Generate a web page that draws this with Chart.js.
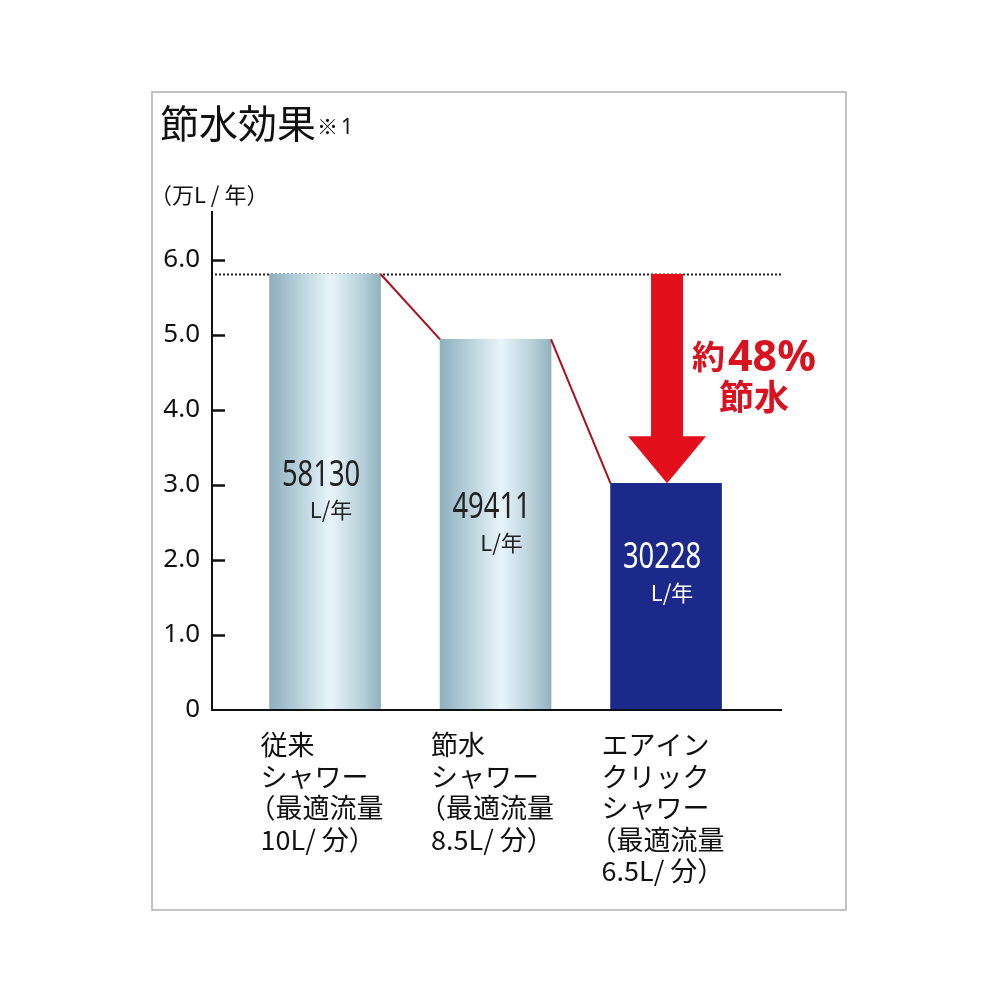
<!DOCTYPE html>
<html>
<head>
<meta charset="utf-8">
<script src="https://cdn.jsdelivr.net/npm/chart.js@4"></script>
<style>
  html, body { margin: 0; padding: 0; background: #fff; }
  canvas { display: block; }
</style>
</head>
<body>
<canvas id="c" width="1000" height="1000"></canvas>
<script>
"use strict";

// data (values in 万L/年)
const categories = [
  ['従来', 'シャワー', '（最適流量', '10L/ 分）'],
  ['節水', 'シャワー', '（最適流量', '8.5L/ 分）'],
  ['エアイン', 'クリック', 'シャワー', '（最適流量', '6.5L/ 分）']
];
const values      = [5.813, 4.9411, 3.0228];
const valueLabels = ['58130', '49411', '30228'];
const unitLabel   = 'L/年';
const yTicks      = [0, 1, 2, 3, 4, 5, 6];

const JP = '"Noto Sans CJK JP", "Noto Sans", sans-serif';
const RED = '#e3101c';
const NAVY = '#1b2a8a';
const BAR_W = 111;

function barGradient(c) {
  const chart = c.chart;
  const i = c.dataIndex;
  if (i === 2 || !chart.chartArea || i === undefined) return NAVY;
  const cx = chart.scales.x.getPixelForValue(i);
  const g = chart.ctx.createLinearGradient(cx - BAR_W / 2, 0, cx + BAR_W / 2, 0);
  g.addColorStop(0, '#8eafbd');
  g.addColorStop(0.18, '#a9c6d2');
  g.addColorStop(0.55, '#e8f4fa');
  g.addColorStop(0.85, '#b4cdd8');
  g.addColorStop(1, '#91b0be');
  return g;
}

const decorations = {
  id: 'decorations',
  beforeDraw(chart) {
    const ctx = chart.ctx;
    ctx.save();
    ctx.fillStyle = '#fff';
    ctx.fillRect(0, 0, chart.width, chart.height);
    // frame
    ctx.strokeStyle = '#b0b0b0';
    ctx.lineWidth = 1.5;
    ctx.strokeRect(152, 92, 694, 818);
    // title
    ctx.fillStyle = '#111';
    ctx.textBaseline = 'alphabetic';
    ctx.textAlign = 'left';
    ctx.font = '39px ' + JP;
    ctx.fillText('節水効果', 160, 138);
    const tw = ctx.measureText('節水効果').width;
    ctx.font = '21px ' + JP;
    ctx.fillText('※', 160 + tw + 1, 134);
    ctx.font = '21px "Noto Sans", sans-serif';
    ctx.fillText('1', 160 + tw + 25, 134);
    // unit
    ctx.font = '22px ' + JP;
    ctx.fillText('（万L / 年）', 150, 203);
    ctx.restore();
  },
  beforeDatasetsDraw(chart) {
    const ctx = chart.ctx;
    const { y } = chart.scales;
    const area = chart.chartArea;
    ctx.save();
    // dotted reference line at bar 1 height
    ctx.strokeStyle = '#222';
    ctx.lineWidth = 2;
    ctx.setLineDash([2, 2]);
    ctx.beginPath();
    const yr = Math.round(y.getPixelForValue(values[0])) + 0.5;
    ctx.moveTo(area.left + 3, yr);
    ctx.lineTo(area.right, yr);
    ctx.stroke();
    ctx.restore();
  },
  afterDatasetsDraw(chart) {
    const ctx = chart.ctx;
    const { x, y } = chart.scales;
    ctx.save();
    // red connectors between bar tops
    ctx.strokeStyle = '#a8101c';
    ctx.lineWidth = 2;
    for (let i = 0; i < values.length - 1; i++) {
      ctx.beginPath();
      ctx.moveTo(x.getPixelForValue(i) + BAR_W / 2, y.getPixelForValue(values[i]));
      ctx.lineTo(x.getPixelForValue(i + 1) - BAR_W / 2, y.getPixelForValue(values[i + 1]));
      ctx.stroke();
    }

    // value labels inside bars
    values.forEach((v, i) => {
      const cx = x.getPixelForValue(i);
      const top = y.getPixelForValue(v);
      let mid = (top + y.getPixelForValue(0)) / 2;
      if (i === 2) mid -= 22;
      ctx.fillStyle = i === 2 ? '#fff' : '#222';
      ctx.textAlign = 'center';
      ctx.textBaseline = 'middle';
      ctx.save();
      ctx.translate(cx - 4, mid - 17);
      ctx.scale(0.74, 1);
      ctx.font = '37px "Noto Sans", sans-serif';
      ctx.fillText(valueLabels[i], 0, 0);
      ctx.restore();
      ctx.font = '22px ' + JP;
      ctx.fillText(unitLabel, cx + 6, mid + 18);
    });

    // category labels
    ctx.fillStyle = '#111';
    ctx.textAlign = 'left';
    ctx.textBaseline = 'middle';
    ctx.font = '27px ' + JP;
    categories.forEach((lines, i) => {
      const left = x.getPixelForValue(i) - BAR_W / 2 - 9;
      lines.forEach((ln, k) => {
        const shift = ln.startsWith('（') ? 12 : 0;
        ctx.fillText(ln, left - shift, 745 + k * 31.5);
      });
    });

    // red arrow from bar 1 level down to bar 3 top
    const ax = x.getPixelForValue(2) + 1;
    const y0 = y.getPixelForValue(values[0]);
    const y1 = y.getPixelForValue(values[2]);
    const headH = 47;
    ctx.fillStyle = RED;
    ctx.beginPath();
    ctx.moveTo(ax - 16, y0);
    ctx.lineTo(ax + 16, y0);
    ctx.lineTo(ax + 16, y1 - headH);
    ctx.lineTo(ax + 39, y1 - headH);
    ctx.lineTo(ax, y1);
    ctx.lineTo(ax - 39, y1 - headH);
    ctx.lineTo(ax - 16, y1 - headH);
    ctx.closePath();
    ctx.fill();

    // savings text
    ctx.fillStyle = '#d8121e';
    ctx.textBaseline = 'alphabetic';
    ctx.textAlign = 'left';
    ctx.font = 'bold 33px ' + JP;
    ctx.fillText('約', 692, 369);
    ctx.font = 'bold 43px "Noto Sans", sans-serif';
    ctx.fillText('48%', 728, 371);
    ctx.font = 'bold 35px ' + JP;
    ctx.textAlign = 'center';
    ctx.fillText('節水', 754, 410);
    ctx.restore();
  },
  afterDraw(chart) {
    const ctx = chart.ctx;
    const { y } = chart.scales;
    const area = chart.chartArea;
    ctx.save();
    ctx.strokeStyle = '#111';
    ctx.lineWidth = 2;
    ctx.setLineDash([]);
    // x axis line
    ctx.beginPath();
    ctx.moveTo(area.left - 1, area.bottom);
    ctx.lineTo(area.right, area.bottom);
    ctx.stroke();
    // short tick marks on the inner side of the y axis
    ctx.lineWidth = 2.5;
    yTicks.filter(v => v > 0).forEach(v => {
      const py = Math.round(y.getPixelForValue(v)) + 0.5;
      ctx.beginPath();
      ctx.moveTo(area.left - 1, py);
      ctx.lineTo(area.left + 13, py);
      ctx.stroke();
    });
    ctx.restore();
  }
};

new Chart(document.getElementById('c'), {
  type: 'bar',
  data: {
    datasets: [{
      data: values.map((v, i) => ({ x: i, y: v })),
      backgroundColor: barGradient,
      borderWidth: 0,
      barThickness: BAR_W
    }]
  },
  options: {
    responsive: false,
    animation: false,
    devicePixelRatio: 1,
    layout: { padding: { left: 0, top: 212, right: 218, bottom: 290 } },
    plugins: { legend: { display: false }, tooltip: { enabled: false } },
    scales: {
      x: { type: 'linear', min: -0.663, max: 2.68, offset: false, display: false },
      y: {
        min: 0,
        max: 6.64,
        afterBuildTicks: axis => { axis.ticks = yTicks.map(v => ({ value: v })); },
        afterFit: axis => { axis.width = 212; },
        grid: { display: false, drawTicks: false },
        border: { display: true, color: '#111', width: 2 },
        ticks: {
          padding: 12,
          color: '#111',
          font: { family: '"Noto Sans", sans-serif', size: 26 },
          callback: v => v === 0 ? '0' : v.toFixed(1)
        }
      }
    }
  },
  plugins: [decorations]
});
</script>
</body>
</html>
